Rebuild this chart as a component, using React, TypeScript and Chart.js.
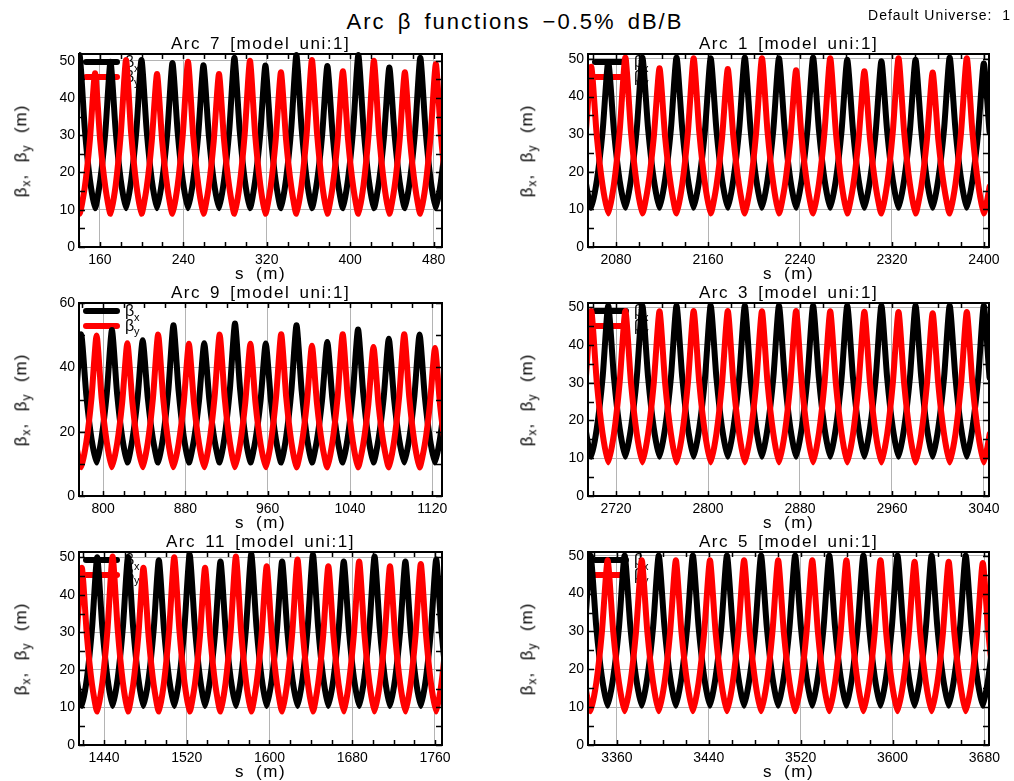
import React, { useEffect, useRef } from "react";
import { Chart, registerables } from "chart.js";

Chart.register(...registerables);

const FONT = '"Liberation Sans", Arial, Helvetica, sans-serif';

// ---------------- DATA ----------------
// Arc 7
const arc7Range = [140, 488];
const arc7XTicks = [160, 240, 320, 400, 480];
const arc7S = [
  125.7, 130.6, 135.6, 140.5, 145.5, 150.4,
  155.4, 160.3, 165.3, 170.2, 175.2, 180.1,
  185.1, 190.0, 195.0, 199.9, 204.9, 209.8,
  214.8, 219.7, 224.7, 229.6, 234.6, 239.5,
  244.5, 249.4, 254.4, 259.3, 264.3, 269.2,
  274.2, 279.1, 284.1, 289.0, 294.0, 298.9,
  303.9, 308.8, 313.8, 318.7, 323.7, 328.6,
  333.6, 338.5, 343.5, 348.4, 353.4, 358.3,
  363.3, 368.2, 373.2, 378.1, 383.1, 388.0,
  393.0, 397.9, 402.9, 407.8, 412.8, 417.7,
  422.7, 427.6, 432.6, 437.5, 442.5, 447.4,
  452.4, 457.3, 462.3, 467.2, 472.2, 477.1,
  482.1, 487.0, 492.0, 496.9,
];
const arc7Bx = [
  10.4, 18.2, 31.9, 51.5, 31.9, 18.2,
  10.4, 17.8, 31.0, 49.7, 31.0, 17.8,
  10.4, 17.9, 31.2, 50.2, 31.2, 17.9,
  10.4, 17.8, 30.8, 49.4, 30.8, 17.8,
  10.4, 17.7, 30.5, 48.8, 30.5, 17.7,
  10.4, 18.0, 31.5, 50.8, 31.5, 18.0,
  10.4, 17.6, 30.4, 48.7, 30.4, 17.6,
  10.4, 18.2, 31.9, 51.5, 31.9, 18.2,
  10.4, 17.6, 30.4, 48.6, 30.4, 17.6,
  10.4, 18.2, 31.9, 51.5, 31.9, 18.2,
  10.4, 17.5, 30.2, 48.2, 30.2, 17.5,
  10.4, 18.0, 31.5, 50.8, 31.5, 18.0,
  10.4, 17.7, 30.7, 49.2,
];
const arc7By = [
  49.2, 30.0, 16.5, 8.9, 16.0, 28.6,
  46.6, 28.6, 16.0, 8.9, 16.7, 30.5,
  50.2, 30.5, 16.7, 8.9, 16.0, 28.5,
  46.4, 28.5, 16.0, 8.9, 16.6, 30.2,
  49.7, 30.2, 16.6, 8.9, 16.0, 28.5,
  46.4, 28.5, 16.0, 8.9, 16.7, 30.4,
  50.0, 30.4, 16.7, 8.9, 16.1, 28.8,
  46.9, 28.8, 16.1, 8.9, 16.7, 30.5,
  50.2, 30.5, 16.7, 8.9, 16.1, 28.9,
  47.2, 28.9, 16.1, 8.9, 16.7, 30.4,
  50.0, 30.4, 16.7, 8.9, 16.1, 28.8,
  46.9, 28.8, 16.1, 8.9, 16.5, 29.9,
  49.1, 29.9, 16.5, 8.9,
];

// Arc 1
const arc1Range = [2055.6, 2404.4];
const arc1XTicks = [2080, 2160, 2240, 2320, 2400];
const arc1S = [
  2043.5, 2048.5, 2053.4, 2058.4, 2063.3, 2068.3,
  2073.2, 2078.2, 2083.1, 2088.1, 2093.0, 2098.0,
  2102.9, 2107.9, 2112.8, 2117.8, 2122.7, 2127.7,
  2132.6, 2137.6, 2142.5, 2147.5, 2152.4, 2157.4,
  2162.3, 2167.3, 2172.2, 2177.2, 2182.1, 2187.1,
  2192.0, 2197.0, 2201.9, 2206.9, 2211.8, 2216.8,
  2221.7, 2226.7, 2231.6, 2236.6, 2241.5, 2246.5,
  2251.4, 2256.4, 2261.3, 2266.3, 2271.2, 2276.2,
  2281.1, 2286.1, 2291.0, 2296.0, 2300.9, 2305.9,
  2310.8, 2315.8, 2320.7, 2325.7, 2330.6, 2335.6,
  2340.5, 2345.5, 2350.4, 2355.4, 2360.3, 2365.3,
  2370.2, 2375.2, 2380.1, 2385.1, 2390.0, 2395.0,
  2399.9, 2404.9, 2409.8, 2414.8,
];
const arc1Bx = [
  49.2, 30.7, 17.7, 10.4, 17.7, 30.7,
  49.2, 30.7, 17.7, 10.4, 18.0, 31.3,
  50.4, 31.3, 18.0, 10.4, 18.0, 31.3,
  50.4, 31.3, 18.0, 10.4, 17.9, 31.2,
  50.2, 31.2, 17.9, 10.4, 18.0, 31.3,
  50.4, 31.3, 18.0, 10.4, 17.9, 31.2,
  50.2, 31.2, 17.9, 10.4, 18.0, 31.3,
  50.4, 31.3, 18.0, 10.4, 17.8, 31.0,
  49.8, 31.0, 17.8, 10.4, 17.8, 30.8,
  49.4, 30.8, 17.8, 10.4, 17.8, 31.0,
  49.8, 31.0, 17.8, 10.4, 18.0, 31.3,
  50.4, 31.3, 18.0, 10.4, 17.7, 30.5,
  48.8, 30.5, 17.7, 10.4,
];
const arc1By = [
  8.9, 16.3, 29.3, 47.9, 29.3, 16.3,
  8.9, 16.7, 30.6, 50.4, 30.6, 16.7,
  8.9, 16.2, 29.1, 47.5, 29.1, 16.2,
  8.9, 16.7, 30.5, 50.2, 30.5, 16.7,
  8.9, 16.2, 29.0, 47.3, 29.0, 16.2,
  8.9, 16.7, 30.5, 50.2, 30.5, 16.7,
  8.9, 16.1, 28.8, 47.0, 28.8, 16.1,
  8.9, 16.7, 30.5, 50.2, 30.5, 16.7,
  8.9, 16.0, 28.7, 46.7, 28.7, 16.0,
  8.9, 16.7, 30.5, 50.2, 30.5, 16.7,
  8.9, 16.0, 28.5, 46.4, 28.5, 16.0,
  8.9, 16.7, 30.5, 50.2, 30.5, 16.7,
  8.9, 16.1, 28.9, 47.2,
];

// Arc 9
const arc9Range = [776.6, 1129.4];
const arc9XTicks = [800, 880, 960, 1040, 1120];
const arc9S = [
  763.8, 768.7, 773.7, 778.7, 783.7, 788.7,
  793.7, 798.6, 803.6, 808.6, 813.6, 818.6,
  823.6, 828.5, 833.5, 838.5, 843.5, 848.5,
  853.5, 858.4, 863.4, 868.4, 873.4, 878.4,
  883.4, 888.3, 893.3, 898.3, 903.3, 908.3,
  913.3, 918.2, 923.2, 928.2, 933.2, 938.2,
  943.2, 948.1, 953.1, 958.1, 963.1, 968.1,
  973.1, 978.0, 983.0, 988.0, 993.0, 998.0,
  1003.0, 1007.9, 1012.9, 1017.9, 1022.9, 1027.9,
  1032.9, 1037.8, 1042.8, 1047.8, 1052.8, 1057.8,
  1062.8, 1067.7, 1072.7, 1077.7, 1082.7, 1087.7,
  1092.7, 1097.6, 1102.6, 1107.6, 1112.6, 1117.6,
  1122.6, 1127.5, 1132.5, 1137.5,
];
const arc9Bx = [
  10.4, 17.9, 31.3, 50.3, 31.3, 17.9,
  10.4, 18.2, 31.9, 51.6, 31.9, 18.2,
  10.4, 17.6, 30.3, 48.4, 30.3, 17.6,
  10.4, 18.5, 32.7, 53.1, 32.7, 18.5,
  10.4, 17.4, 29.8, 47.5, 29.8, 17.4,
  10.4, 18.6, 33.0, 53.6, 33.0, 18.6,
  10.4, 17.4, 29.8, 47.4, 29.8, 17.4,
  10.4, 18.5, 32.7, 53.1, 32.7, 18.5,
  10.4, 17.5, 30.0, 47.9, 30.0, 17.5,
  10.4, 18.2, 32.1, 51.8, 32.1, 18.2,
  10.4, 17.7, 30.5, 48.9, 30.5, 17.7,
  10.4, 17.9, 31.2, 50.2, 31.2, 17.9,
  10.4, 17.9, 31.1, 50.0,
];
const arc9By = [
  48.0, 29.4, 16.3, 8.9, 16.7, 30.3,
  49.9, 30.3, 16.7, 8.9, 16.2, 29.1,
  47.5, 29.1, 16.2, 8.9, 16.7, 30.5,
  50.2, 30.5, 16.7, 8.9, 16.2, 29.0,
  47.3, 29.0, 16.2, 8.9, 16.7, 30.5,
  50.2, 30.5, 16.7, 8.9, 16.2, 29.0,
  47.3, 29.0, 16.2, 8.9, 16.7, 30.6,
  50.3, 30.6, 16.7, 8.9, 16.0, 28.7,
  46.7, 28.7, 16.0, 8.9, 16.7, 30.6,
  50.3, 30.6, 16.7, 8.9, 16.0, 28.5,
  46.3, 28.5, 16.0, 8.9, 16.7, 30.6,
  50.3, 30.6, 16.7, 8.9, 15.9, 28.3,
  46.0, 28.3, 15.9, 8.9,
];

// Arc 3
const arc3Range = [2695.6, 3044.4];
const arc3XTicks = [2720, 2800, 2880, 2960, 3040];
const arc3S = [
  2683.5, 2688.5, 2693.4, 2698.4, 2703.3, 2708.3,
  2713.2, 2718.2, 2723.1, 2728.1, 2733.0, 2738.0,
  2742.9, 2747.9, 2752.8, 2757.8, 2762.7, 2767.7,
  2772.6, 2777.6, 2782.5, 2787.5, 2792.4, 2797.4,
  2802.3, 2807.3, 2812.2, 2817.2, 2822.1, 2827.1,
  2832.0, 2837.0, 2841.9, 2846.9, 2851.8, 2856.8,
  2861.7, 2866.7, 2871.6, 2876.6, 2881.5, 2886.5,
  2891.4, 2896.4, 2901.3, 2906.3, 2911.2, 2916.2,
  2921.1, 2926.1, 2931.0, 2936.0, 2940.9, 2945.9,
  2950.8, 2955.8, 2960.7, 2965.7, 2970.6, 2975.6,
  2980.5, 2985.5, 2990.4, 2995.4, 3000.3, 3005.3,
  3010.2, 3015.2, 3020.1, 3025.1, 3030.0, 3035.0,
  3039.9, 3044.9, 3049.8, 3054.8,
];
const arc3Bx = [
  50.0, 31.1, 17.9, 10.4, 18.0, 31.3,
  50.4, 31.3, 18.0, 10.4, 18.0, 31.3,
  50.4, 31.3, 18.0, 10.4, 18.0, 31.3,
  50.4, 31.3, 18.0, 10.4, 18.0, 31.3,
  50.4, 31.3, 18.0, 10.4, 18.0, 31.3,
  50.4, 31.3, 18.0, 10.4, 18.0, 31.3,
  50.4, 31.3, 18.0, 10.4, 18.0, 31.3,
  50.4, 31.3, 18.0, 10.4, 18.0, 31.3,
  50.4, 31.3, 18.0, 10.4, 18.0, 31.3,
  50.4, 31.3, 18.0, 10.4, 18.0, 31.3,
  50.4, 31.3, 18.0, 10.4, 18.0, 31.3,
  50.4, 31.3, 18.0, 10.4, 18.0, 31.3,
  50.4, 31.3, 18.0, 10.4,
];
const arc3By = [
  8.9, 16.5, 29.9, 49.0, 29.9, 16.5,
  8.9, 16.5, 29.9, 49.0, 29.9, 16.5,
  8.9, 16.5, 29.8, 48.9, 29.8, 16.5,
  8.9, 16.5, 29.9, 49.0, 29.9, 16.5,
  8.9, 16.5, 29.9, 49.0, 29.9, 16.5,
  8.9, 16.5, 29.8, 48.9, 29.8, 16.5,
  8.9, 16.5, 29.9, 49.0, 29.9, 16.5,
  8.9, 16.5, 29.8, 48.9, 29.8, 16.5,
  8.9, 16.4, 29.8, 48.8, 29.8, 16.4,
  8.9, 16.4, 29.7, 48.7, 29.7, 16.4,
  8.9, 16.4, 29.6, 48.4, 29.6, 16.4,
  8.9, 16.4, 29.7, 48.7, 29.7, 16.4,
  8.9, 16.4, 29.6, 48.5,
];

// Arc 11
const arc11Range = [1415.8, 1766.8];
const arc11XTicks = [1440, 1520, 1600, 1680, 1760];
const arc11S = [
  1403.6, 1408.6, 1413.5, 1418.5, 1423.5, 1428.4,
  1433.4, 1438.4, 1443.3, 1448.3, 1453.3, 1458.2,
  1463.2, 1468.2, 1473.1, 1478.1, 1483.1, 1488.0,
  1493.0, 1498.0, 1502.9, 1507.9, 1512.9, 1517.8,
  1522.8, 1527.8, 1532.7, 1537.7, 1542.7, 1547.6,
  1552.6, 1557.6, 1562.5, 1567.5, 1572.5, 1577.4,
  1582.4, 1587.4, 1592.3, 1597.3, 1602.3, 1607.2,
  1612.2, 1617.2, 1622.1, 1627.1, 1632.1, 1637.0,
  1642.0, 1647.0, 1651.9, 1656.9, 1661.9, 1666.8,
  1671.8, 1676.8, 1681.7, 1686.7, 1691.7, 1696.6,
  1701.6, 1706.6, 1711.5, 1716.5, 1721.5, 1726.4,
  1731.4, 1736.4, 1741.3, 1746.3, 1751.3, 1756.2,
  1761.2, 1766.2, 1771.1, 1776.1,
];
const arc11Bx = [
  49.5, 30.9, 17.8, 10.4, 17.9, 31.1,
  50.0, 31.1, 17.9, 10.4, 17.9, 31.2,
  50.1, 31.2, 17.9, 10.4, 17.7, 30.7,
  49.2, 30.7, 17.7, 10.4, 18.0, 31.5,
  50.7, 31.5, 18.0, 10.4, 17.7, 30.5,
  48.9, 30.5, 17.7, 10.4, 18.0, 31.5,
  50.8, 31.5, 18.0, 10.4, 17.7, 30.5,
  48.9, 30.5, 17.7, 10.4, 18.0, 31.5,
  50.7, 31.5, 18.0, 10.4, 17.7, 30.5,
  48.9, 30.5, 17.7, 10.4, 17.9, 31.2,
  50.2, 31.2, 17.9, 10.4, 17.7, 30.5,
  48.9, 30.5, 17.7, 10.4, 17.8, 30.8,
  49.4, 30.8, 17.8, 10.4,
];
const arc11By = [
  8.9, 16.1, 28.9, 47.2, 28.9, 16.1,
  8.9, 16.7, 30.5, 50.2, 30.5, 16.7,
  8.9, 16.1, 28.9, 47.2, 28.9, 16.1,
  8.9, 16.7, 30.4, 50.0, 30.4, 16.7,
  8.9, 16.1, 28.9, 47.2, 28.9, 16.1,
  8.9, 16.7, 30.5, 50.2, 30.5, 16.7,
  8.9, 16.2, 29.1, 47.6, 29.1, 16.2,
  8.9, 16.6, 30.1, 49.4, 30.1, 16.6,
  8.9, 16.2, 29.1, 47.6, 29.1, 16.2,
  8.9, 16.5, 29.8, 48.9, 29.8, 16.5,
  8.9, 16.2, 29.1, 47.6, 29.1, 16.2,
  8.9, 16.3, 29.5, 48.2, 29.5, 16.3,
  8.9, 16.3, 29.4, 48.0,
];

// Arc 5
const arc5Range = [3334.8, 3684.0];
const arc5XTicks = [3360, 3440, 3520, 3600, 3680];
const arc5S = [
  3322.2, 3327.1, 3332.1, 3337.0, 3342.0, 3346.9,
  3351.9, 3356.8, 3361.8, 3366.7, 3371.7, 3376.6,
  3381.6, 3386.5, 3391.5, 3396.4, 3401.4, 3406.3,
  3411.3, 3416.2, 3421.2, 3426.1, 3431.1, 3436.0,
  3441.0, 3445.9, 3450.9, 3455.8, 3460.8, 3465.7,
  3470.7, 3475.6, 3480.6, 3485.5, 3490.5, 3495.4,
  3500.4, 3505.3, 3510.3, 3515.2, 3520.2, 3525.1,
  3530.1, 3535.0, 3540.0, 3544.9, 3549.9, 3554.8,
  3559.8, 3564.7, 3569.7, 3574.6, 3579.6, 3584.5,
  3589.5, 3594.4, 3599.4, 3604.3, 3609.3, 3614.2,
  3619.2, 3624.1, 3629.1, 3634.0, 3639.0, 3643.9,
  3648.9, 3653.8, 3658.8, 3663.7, 3668.7, 3673.6,
  3678.6, 3683.5, 3688.5, 3693.4,
];
const arc5Bx = [
  10.4, 17.9, 31.2, 50.1, 31.2, 17.9,
  10.4, 17.9, 31.2, 50.1, 31.2, 17.9,
  10.4, 17.9, 31.2, 50.1, 31.2, 17.9,
  10.4, 17.9, 31.2, 50.1, 31.2, 17.9,
  10.4, 17.9, 31.2, 50.1, 31.2, 17.9,
  10.4, 17.9, 31.2, 50.1, 31.2, 17.9,
  10.4, 17.9, 31.2, 50.1, 31.2, 17.9,
  10.4, 17.9, 31.2, 50.1, 31.2, 17.9,
  10.4, 17.9, 31.2, 50.1, 31.2, 17.9,
  10.4, 17.9, 31.2, 50.1, 31.2, 17.9,
  10.4, 17.9, 31.2, 50.1, 31.2, 17.9,
  10.4, 17.9, 31.2, 50.1, 31.2, 17.9,
  10.4, 17.9, 31.2, 50.1,
];
const arc5By = [
  48.5, 29.6, 16.4, 8.9, 16.4, 29.8,
  48.8, 29.8, 16.4, 8.9, 16.4, 29.8,
  48.8, 29.8, 16.4, 8.9, 16.4, 29.8,
  48.8, 29.8, 16.4, 8.9, 16.4, 29.8,
  48.8, 29.8, 16.4, 8.9, 16.4, 29.8,
  48.8, 29.8, 16.4, 8.9, 16.4, 29.8,
  48.8, 29.8, 16.4, 8.9, 16.4, 29.8,
  48.8, 29.8, 16.4, 8.9, 16.4, 29.8,
  48.8, 29.8, 16.4, 8.9, 16.4, 29.8,
  48.8, 29.8, 16.4, 8.9, 16.4, 29.6,
  48.4, 29.6, 16.4, 8.9, 16.4, 29.6,
  48.4, 29.6, 16.4, 8.9, 16.3, 29.4,
  48.1, 29.4, 16.3, 8.9,
];

const yTicks50 = [0, 10, 20, 30, 40, 50];
const yTicks60 = [0, 20, 40, 60];
// ---------------------------------------------------------------

const framePlugin = {
  id: "frameTicks",
  beforeDatasetsDraw(chart: any) {
    const { ctx, chartArea } = chart;
    const { left, top } = chartArea;
    ctx.save();
    ctx.lineCap = "round";
    ctx.lineWidth = 6;
    ctx.strokeStyle = "#000000";
    ctx.beginPath();
    ctx.moveTo(left + 7, top + 8);
    ctx.lineTo(left + 38, top + 8);
    ctx.stroke();
    ctx.strokeStyle = "#ff0000";
    ctx.beginPath();
    ctx.moveTo(left + 7, top + 23);
    ctx.lineTo(left + 38, top + 23);
    ctx.stroke();
    ctx.fillStyle = "#000000";
    ctx.textBaseline = "alphabetic";
    ctx.textAlign = "left";
    ctx.font = `16px ${FONT}`;
    ctx.fillText("β", left + 46, top + 13);
    ctx.fillText("β", left + 46, top + 28);
    ctx.font = `11px ${FONT}`;
    ctx.fillText("x", left + 55, top + 18);
    ctx.fillText("y", left + 55, top + 32);
    ctx.restore();
  },
  afterDatasetsDraw(chart: any, _args: any, opts: any) {
    const { ctx, chartArea, scales } = chart;
    const { left, right, top, bottom } = chartArea;
    const xs = scales.x;
    const ys = scales.y;
    ctx.save();
    ctx.strokeStyle = "#000000";
    ctx.lineWidth = 1.5;
    ctx.beginPath();
    const xStep = opts.xMinor || 20;
    for (let v = Math.ceil(xs.min / xStep) * xStep; v <= xs.max; v += xStep) {
      const px = Math.round(xs.getPixelForValue(v)) + 0.5;
      ctx.moveTo(px, bottom);
      ctx.lineTo(px, bottom - 5);
      ctx.moveTo(px, top);
      ctx.lineTo(px, top + 5);
    }
    const yStep = opts.yMinor || 5;
    for (let v = Math.ceil(ys.min / yStep) * yStep; v <= ys.max; v += yStep) {
      const py = Math.round(ys.getPixelForValue(v)) + 0.5;
      ctx.moveTo(left, py);
      ctx.lineTo(left + 6, py);
      ctx.moveTo(right, py);
      ctx.lineTo(right - 6, py);
    }
    ctx.stroke();
    ctx.lineWidth = 2;
    ctx.strokeRect(left, top, right - left, bottom - top);
    ctx.restore();
  },
};

type PanelDef = {
  title: string;
  s: number[];
  bx: number[];
  by: number[];
  range: number[];
  xTicks: number[];
  yTicks: number[];
  yMax: number;
  yMinor: number;
  L: number;
  T: number;
  W: number;
  H: number;
};

const PAD_L = 75;
const PAD_R = 25;
const PAD_T = 15;
const PAD_B = 45;

function Panel({ p }: { p: PanelDef }) {
  const ref = useRef<HTMLCanvasElement | null>(null);
  useEffect(() => {
    if (!ref.current) return;
    const mk = (ys: number[]) => p.s.map((x, i) => ({ x, y: ys[i] }));
    const lineStyle = {
      borderWidth: 6,
      pointRadius: 0,
      tension: 0.2,
      borderJoinStyle: "round",
      borderCapStyle: "round",
      clip: { left: 0, top: 4, right: 0, bottom: 0 },
    };
    const chart = new Chart(ref.current, {
      type: "line",
      data: {
        datasets: [
          { ...lineStyle, data: mk(p.bx), borderColor: "#000000", order: 2 } as any,
          { ...lineStyle, data: mk(p.by), borderColor: "#ff0000", order: 1 } as any,
        ],
      },
      options: {
        animation: false,
        responsive: false,
        maintainAspectRatio: false,
        parsing: false,
        layout: { padding: { left: 0, right: PAD_R, top: PAD_T, bottom: 0 } },
        plugins: {
          legend: { display: false },
          tooltip: { enabled: false },
          title: { display: false },
          frameTicks: { xMinor: 20, yMinor: p.yMinor },
        } as any,
        scales: {
          x: {
            type: "linear",
            min: p.range[0],
            max: p.range[1],
            afterBuildTicks: (sc: any) => {
              sc.ticks = p.xTicks.map((v) => ({ value: v }));
            },
            afterFit: (sc: any) => {
              sc.height = PAD_B;
            },
            grid: { color: "#b4b4b4", lineWidth: 1, drawTicks: false },
            border: { display: false },
            ticks: {
              padding: 5,
              color: "#000000",
              font: { family: FONT, size: 14 },
              maxRotation: 0,
              autoSkip: false,
              callback: (v: any) => String(v),
            },
          },
          y: {
            type: "linear",
            min: 0,
            max: p.yMax,
            afterBuildTicks: (sc: any) => {
              sc.ticks = p.yTicks.map((v) => ({ value: v }));
            },
            afterFit: (sc: any) => {
              sc.width = PAD_L;
            },
            grid: { color: "#b4b4b4", lineWidth: 1, drawTicks: false },
            border: { display: false },
            ticks: {
              padding: 4,
              color: "#000000",
              font: { family: FONT, size: 14 },
              autoSkip: false,
              callback: (v: any) => String(v),
            },
          },
        },
      },
      plugins: [framePlugin as any],
    });
    return () => chart.destroy();
  }, [p]);

  const cw = p.W + PAD_L + PAD_R;
  const ch = p.H + PAD_T + PAD_B;
  const yTitleX = p.L < 300 ? 24 : 530;
  return (
    <>
      <canvas
        ref={ref}
        width={cw}
        height={ch}
        style={{ position: "absolute", left: p.L - PAD_L, top: p.T - PAD_T, width: cw, height: ch }}
      />
      <div
        style={{
          position: "absolute",
          left: p.L,
          width: p.W,
          top: p.T - 19,
          textAlign: "center",
          fontSize: 17,
          lineHeight: "18px",
          letterSpacing: "1.5px",
          wordSpacing: "3px",
          whiteSpace: "pre",
        }}
      >
        {p.title}
      </div>
      <div
        style={{
          position: "absolute",
          left: p.L,
          width: p.W,
          top: p.T + p.H + 18,
          textAlign: "center",
          fontSize: 17,
          lineHeight: "18px",
          letterSpacing: "1.5px",
          wordSpacing: "5px",
          whiteSpace: "pre",
        }}
      >
        s (m)
      </div>
      <div
        style={{
          position: "absolute",
          left: yTitleX,
          top: p.T + p.H / 2,
          transform: "translate(-50%, -50%) rotate(-90deg)",
          fontSize: 17,
          lineHeight: "20px",
          letterSpacing: "1px",
          whiteSpace: "pre",
        }}
      >
        β<sub style={{ fontSize: 12 }}>x</sub>,  β<sub style={{ fontSize: 12 }}>y</sub>  (m)
      </div>
    </>
  );
}

const panels: PanelDef[] = [
  { title: "Arc 7 [model uni:1]", s: arc7S, bx: arc7Bx, by: arc7By, range: arc7Range, xTicks: arc7XTicks, yTicks: yTicks50, yMax: 51.8, yMinor: 5, L: 79, T: 54, W: 363, H: 193 },
  { title: "Arc 1 [model uni:1]", s: arc1S, bx: arc1Bx, by: arc1By, range: arc1Range, xTicks: arc1XTicks, yTicks: yTicks50, yMax: 51.3, yMinor: 5, L: 588, T: 54, W: 401, H: 193 },
  { title: "Arc 9 [model uni:1]", s: arc9S, bx: arc9Bx, by: arc9By, range: arc9Range, xTicks: arc9XTicks, yTicks: yTicks60, yMax: 60, yMinor: 10, L: 79, T: 303, W: 363, H: 193 },
  { title: "Arc 3 [model uni:1]", s: arc3S, bx: arc3Bx, by: arc3By, range: arc3Range, xTicks: arc3XTicks, yTicks: yTicks50, yMax: 51.1, yMinor: 5, L: 588, T: 303, W: 401, H: 193 },
  { title: "Arc 11 [model uni:1]", s: arc11S, bx: arc11Bx, by: arc11By, range: arc11Range, xTicks: arc11XTicks, yTicks: yTicks50, yMax: 51.4, yMinor: 5, L: 79, T: 552, W: 363, H: 193 },
  { title: "Arc 5 [model uni:1]", s: arc5S, bx: arc5Bx, by: arc5By, range: arc5Range, xTicks: arc5XTicks, yTicks: yTicks50, yMax: 51.0, yMinor: 5, L: 588, T: 552, W: 401, H: 193 },
];

export default function App() {
  return (
    <div
      style={{
        position: "absolute",
        left: 0,
        top: 0,
        width: 1014,
        height: 781,
        background: "#ffffff",
        overflow: "hidden",
        fontFamily: FONT,
        color: "#000000",
      }}
    >
      {panels.map((p) => (
        <Panel key={p.title} p={p} />
      ))}
      <div
        style={{
          position: "absolute",
          left: 0,
          width: 1030,
          top: 10,
          textAlign: "center",
          fontSize: 22,
          lineHeight: "24px",
          letterSpacing: "2px",
          wordSpacing: "4px",
          whiteSpace: "pre",
        }}
      >
        Arc β functions −0.5% dB/B
      </div>
      <div
        style={{
          position: "absolute",
          right: 3,
          top: 7,
          fontSize: 14,
          lineHeight: "16px",
          letterSpacing: "1px",
          whiteSpace: "pre",
        }}
      >
        Default Universe:  1
      </div>
    </div>
  );
}
